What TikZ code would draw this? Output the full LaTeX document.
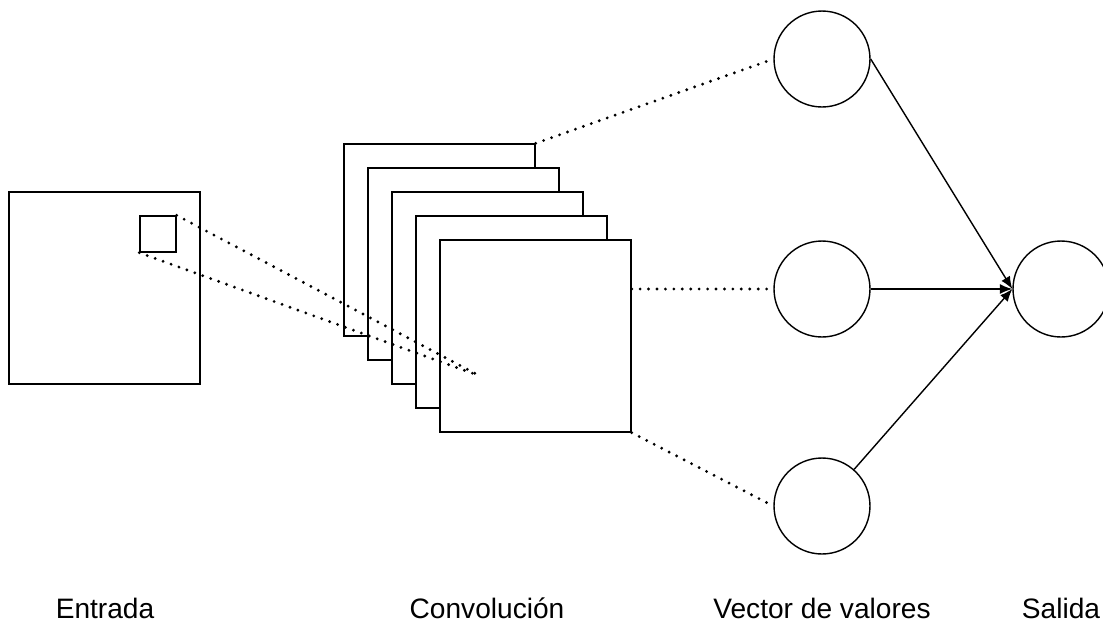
\documentclass[tikz,border=0pt]{standalone}
\usepackage{fontspec}
\setmainfont{Liberation Sans}
\usetikzlibrary{arrows.meta}

\begin{document}
\begin{tikzpicture}[x=0.02cm, y=-0.02cm, line width=0.8pt,
	mapa/.style={draw, fill=white, minimum width=3.82cm, minimum height=3.84cm, inner sep=0pt},
	neurona/.style={draw, circle, minimum size=1.92cm, inner sep=0pt},
	punteado/.style={dash pattern=on 0pt off 4.8pt, line cap=round, line width=1.8pt},
	flecha/.style={-{Latex[length=2.5mm, width=2mm]}},
	etiqueta/.style={font=\fontsize{16}{19}\selectfont}]
	\useasboundingbox (0,0) rectangle (1103,623);
	\node[mapa] (entrada) at (104.5,288) {};
	\node[draw, minimum size=0.72cm, inner sep=0pt] (filtro) at (158,234) {};
	\foreach \i in {1,...,5}
	  \node[mapa] (c\i) at (439.5+24*\i-24, 240+24*\i-24) {};
	\coordinate (foco) at (480,376);
	\draw[punteado] (filtro.north east) -- (foco);
	\draw[punteado] (filtro.south west) -- (foco);
	\node[neurona] (v1) at (822,59) {};
	\node[neurona] (v2) at (822,289) {};
	\node[neurona] (v3) at (822,506) {};
	\node[neurona] (salida) at (1061,289) {};
	\draw[punteado] (c1.north east) -- (v1.west);
	\draw[punteado] (c5.east |- v2.west) -- (v2.west);
	\draw[punteado] (c5.south east) -- (v3.west);
	\draw[flecha] (v1.east) -- (salida.west);
	\draw[flecha] (v2) -- (salida.west);
	\draw[flecha] (v3) -- (salida.west);
	\node[etiqueta] (t1) at (105,608) {Entrada};
	\node[etiqueta] (t2) at (487,608) {Convolución};
	\node[etiqueta] (t3) at (822,608) {Vector de valores};
	\node[etiqueta] (t4) at (1061,608) {Salida};
\end{tikzpicture}
\end{document}
